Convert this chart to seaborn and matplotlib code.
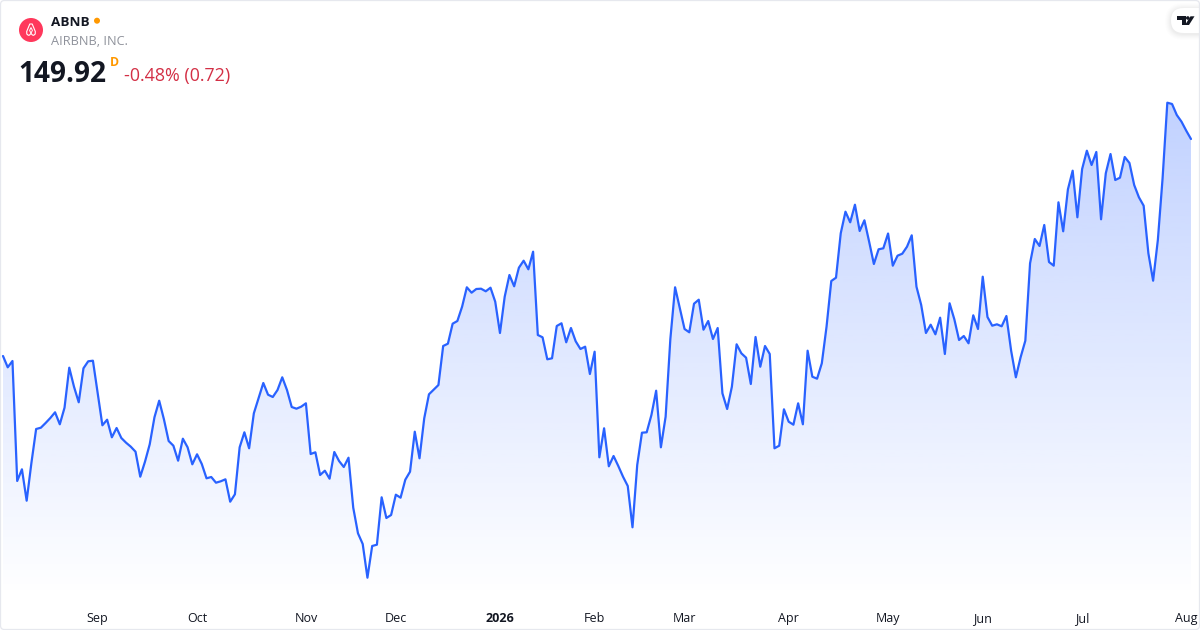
import numpy as np
import pandas as pd
import matplotlib
matplotlib.use("Agg")
import matplotlib.pyplot as plt
import seaborn as sns
from matplotlib.patches import Circle, FancyBboxPatch, Polygon

# daily closes
closes = [
    128.22, 127.09, 127.72, 115.72, 116.89, 113.75, 117.52, 120.92, 121.05, 121.52,
    122.02, 122.59, 121.39, 123.05, 127.05, 125.15, 123.59, 126.99, 127.69, 127.75,
    124.52, 121.29, 121.85, 120.09, 121.02, 120.02, 119.55, 119.15, 118.65, 116.15,
    117.65, 119.39, 122.09, 123.75, 121.89, 119.72, 119.25, 117.75, 119.95, 119.09,
    117.39, 118.39, 117.42, 115.99, 116.12, 115.55, 115.69, 115.89, 113.65, 114.39,
    119.09, 120.59, 118.99, 122.49, 123.99, 125.52, 124.35, 124.12, 124.82, 126.09,
    124.82, 123.12, 122.95, 123.15, 123.49, 118.42, 118.59, 116.32, 116.75, 115.95,
    118.62, 117.72, 117.12, 118.05, 113.05, 110.49, 109.42, 106.05, 109.22, 109.35,
    114.09, 112.02, 112.32, 114.35, 114.05, 115.85, 116.65, 120.65, 117.99, 121.99,
    124.39, 124.85, 125.32, 129.22, 129.45, 131.45, 131.72, 133.15, 135.09, 134.55,
    134.92, 134.95, 134.69, 135.05, 133.65, 130.52, 134.15, 136.32, 135.19, 137.05,
    137.75, 136.89, 138.65, 130.32, 130.09, 127.89, 127.99, 131.22, 131.49, 129.59,
    131.02, 129.69, 128.92, 129.15, 126.42, 128.65, 118.09, 120.99, 117.19, 118.22,
    117.22, 116.15, 115.22, 111.09, 117.32, 120.55, 120.59, 122.32, 124.75, 119.09,
    122.15, 129.92, 135.09, 132.99, 130.92, 130.59, 133.45, 133.85, 130.85, 131.72,
    129.92, 131.02, 124.49, 122.92, 125.15, 129.39, 128.49, 128.05, 125.42, 130.12,
    127.15, 129.22, 128.42, 118.99, 119.25, 122.89, 121.65, 121.35, 123.49, 121.39,
    128.75, 126.15, 125.95, 127.49, 131.15, 135.72, 136.05, 140.49, 142.65, 141.59,
    143.35, 140.72, 141.79, 139.65, 137.42, 138.89, 138.99, 140.47, 137.25, 138.25,
    138.45, 139.15, 140.29, 135.15, 133.32, 130.52, 131.35, 130.39, 132.05, 128.42,
    133.49, 131.89, 129.82, 130.22, 129.49, 132.29, 130.92, 136.15, 132.12, 131.25,
    131.39, 131.19, 132.22, 128.75, 126.09, 128.09, 129.75, 137.49, 139.92, 139.22,
    141.32, 137.62, 137.25, 143.59, 140.69, 144.89, 146.75, 142.09, 146.92, 148.75,
    147.32, 148.62, 141.89, 146.49, 148.42, 145.82, 146.05, 148.12, 147.52, 145.32,
    144.09, 143.25, 138.49, 135.75, 139.82, 145.99, 153.55, 153.42, 152.32, 151.65,
    150.75, 149.92,
]
tick_labels = ["Sep", "Oct", "Nov", "Dec", "2026", "Feb", "Mar", "Apr", "May", "Jun", "Jul", "Aug"]
tick_bars = [20, 41, 64, 83, 105, 125, 144, 166, 187, 207, 228, 250]

df = pd.DataFrame({"bar": np.arange(len(closes)), "close": closes})

LINE = "#2962FF"
W, H = 1200, 630
PLOT_BOTTOM = 598

sns.set_theme(style="white")
plt.rcParams["font.family"] = ["Open Sans", "DejaVu Sans"]

fig = plt.figure(figsize=(12, 6.3), dpi=100, facecolor="white")
ax = fig.add_axes([0, (H - PLOT_BOTTOM) / H, 1, PLOT_BOTTOM / H])
ax.patch.set_alpha(0)

# x: bar 0 sits at 3 px, one bar is 4.733 px
x_min, x_max = -3 / 4.733, (W - 3) / 4.733
# y: 10 px per dollar, pane top is 163.82
y_min, y_max = 163.82 - PLOT_BOTTOM / 10, 163.82

# gradient area under the line
fill = ax.fill_between(df["bar"], df["close"], y_min, color="none", lw=0)
rgba = np.zeros((256, 1, 4))
rgba[..., :3] = matplotlib.colors.to_rgb(LINE)
rgba[..., 3] = np.linspace(0.29, 0.0, 256)[:, None]
im = ax.imshow(rgba, extent=(x_min, x_max, y_min, 153.6), origin="upper",
               aspect="auto", zorder=1, interpolation="bilinear")
im.set_clip_path(fill.get_paths()[0], transform=ax.transData)

sns.lineplot(data=df, x="bar", y="close", color=LINE, linewidth=1.6, ax=ax, zorder=2,
             solid_joinstyle="round", errorbar=None)

ax.set_xlim(x_min, x_max)
ax.set_ylim(y_min, y_max)
ax.set_yticks([])
ax.set_xticks(tick_bars)
ax.set_xticklabels(tick_labels, fontsize=9, color="#131722", va="baseline")
ax.get_xticklabels()[4].set_fontweight("bold")
ax.tick_params(axis="x", length=0, pad=17.3)
ax.set_xlabel("")
ax.set_ylabel("")
sns.despine(ax=ax, left=True, bottom=True, right=True, top=True)

# overlay in pixel coords for the header, logos and frame
ov = fig.add_axes([0, 0, 1, 1], zorder=5)
ov.set_xlim(0, W)
ov.set_ylim(H, 0)
ov.axis("off")
ov.patch.set_alpha(0)

# airbnb badge
ov.add_patch(Circle((31, 30), 12, fc="#FF385C", ec="none"))
belo = [(29.8, 24), (32.2, 24), (35.3, 31.5), (35.2, 34), (33.7, 35.3), (32.4, 35), (31, 33.4),
        (29.6, 35), (28.3, 35.3), (26.8, 34), (26.7, 31.5)]
ov.add_patch(Polygon(belo, closed=True, fc="none", ec="white", lw=0.8, joinstyle="round"))
ov.add_patch(Polygon([(31, 27.6), (32.4, 30.4), (31, 33.2), (29.6, 30.4)], closed=True,
                     fc="none", ec="white", lw=0.7, joinstyle="round"))

ov.text(51, 26, "ABNB", fontsize=9.7, fontweight="bold", color="#131722", va="baseline")
ov.add_patch(Circle((97, 20.7), 3, fc="#FF9800", ec="none"))
ov.text(51, 45, "AIRBNB, INC.", fontsize=9.2, color="#8f929b", va="baseline")
ov.text(18.7, 82, "149.92", fontsize=20.2, fontweight="bold", color="#131722", va="baseline")
ov.text(109.5, 65.5, "D", fontsize=8.8, fontweight="bold", color="#FF9800", va="baseline")
ov.text(124, 80.5, "-0.48% (0.72)", fontsize=12.85, color="#D32F45", va="baseline")

# tradingview badge in the top right corner, soft shadow under a white pill
for grow, alpha in [(6, 0.006), (5, 0.008), (4, 0.010), (3, 0.012), (2, 0.014), (1, 0.016)]:
    ov.add_patch(FancyBboxPatch((1171 - grow, 9 - grow), 50, 25 + 2 * grow,
                                boxstyle="round,pad=0,rounding_size=%g" % (12.5 + grow),
                                fc="black", ec="none", alpha=alpha))
ov.add_patch(FancyBboxPatch((1171, 8), 50, 25, boxstyle="round,pad=0,rounding_size=12.5",
                            fc="white", ec="none"))
ov.add_patch(Polygon([(1177.3, 16.3), (1185.5, 16.3), (1185.5, 25), (1181.5, 25), (1181.5, 20), (1177.3, 20)],
                     closed=True, fc="#131722", ec="none"))
ov.add_patch(Circle((1187.8, 18), 1.8, fc="#131722", ec="none"))
ov.add_patch(Polygon([(1190.5, 16.3), (1194.5, 16.3), (1189, 25), (1185, 25)],
                     closed=True, fc="#131722", ec="none"))

# thin rounded frame, drawn last so it runs over the badge shadow
ov.add_patch(FancyBboxPatch((0.5, 0.5), W - 1, H - 1, boxstyle="round,pad=0,rounding_size=4",
                            fc="none", ec="#e6e8ee", lw=0.9))

fig.savefig("out.png", dpi=100)
